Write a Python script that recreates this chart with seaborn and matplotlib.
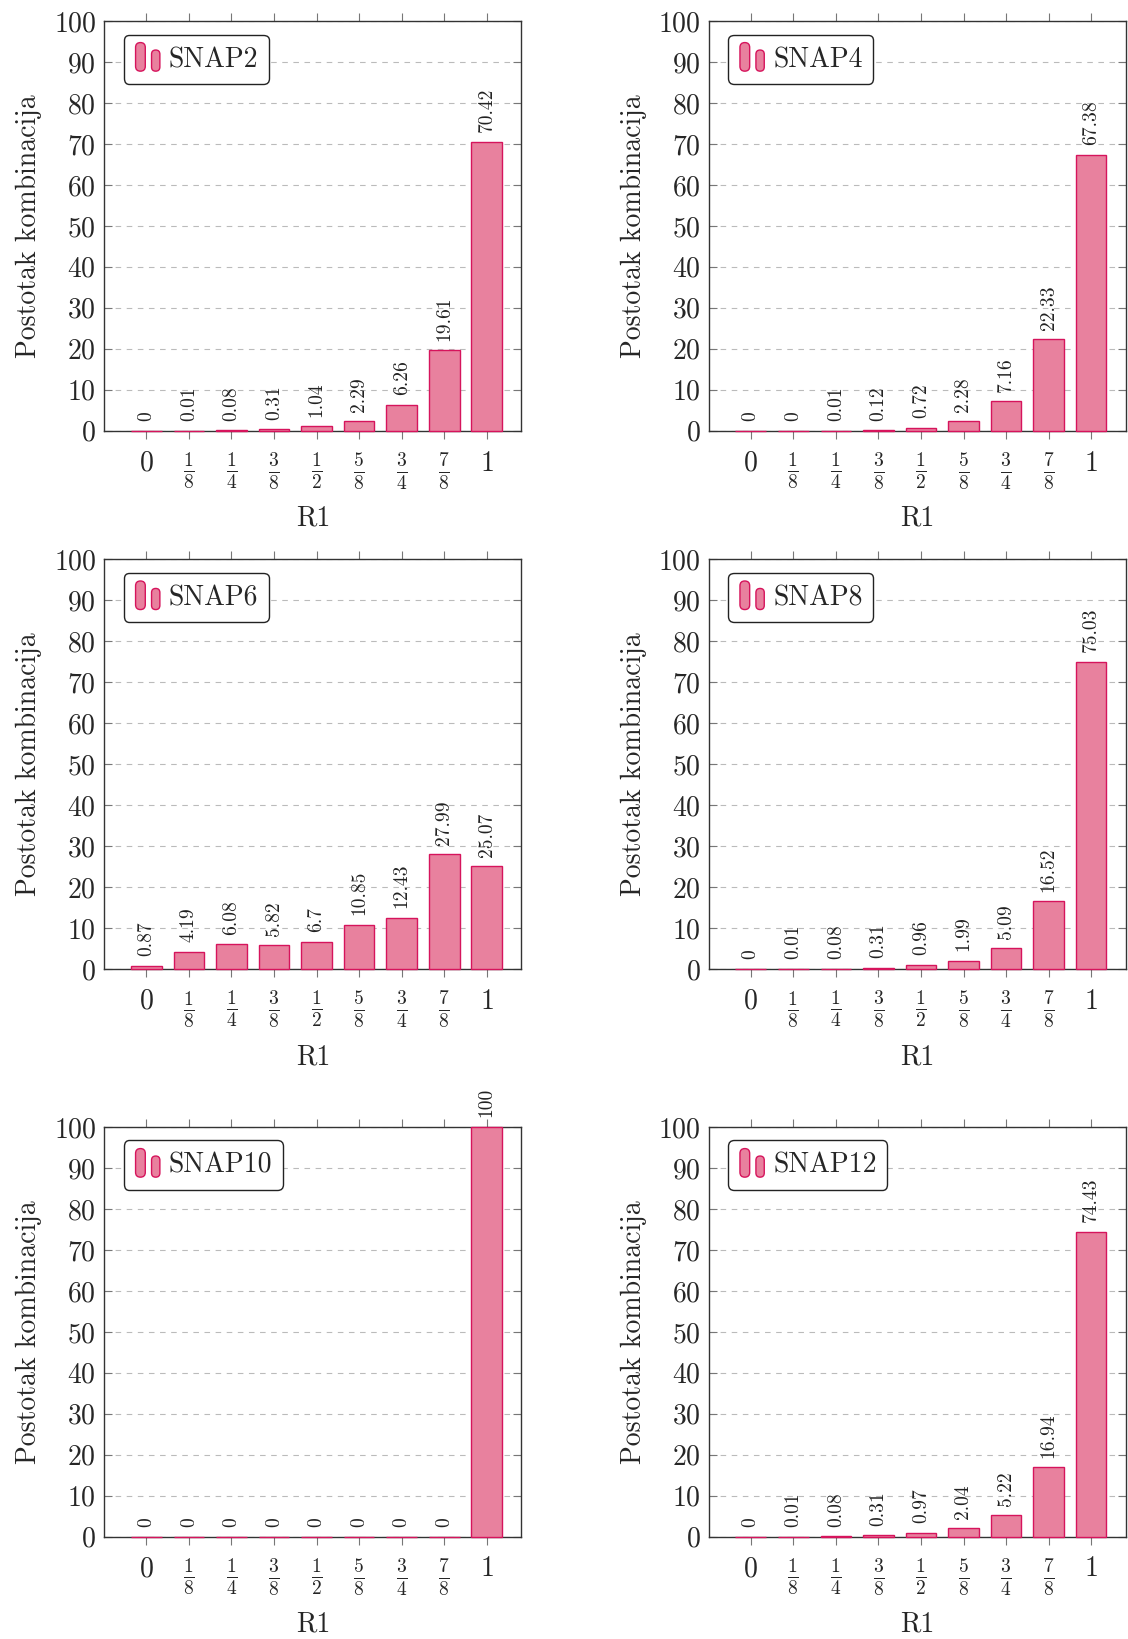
import numpy as np
import matplotlib
matplotlib.use('Agg')
import matplotlib.pyplot as plt
import seaborn as sns
from matplotlib.patches import Patch, FancyBboxPatch

sns.set_style('white')
plt.rcParams['font.family'] = 'serif'
plt.rcParams['font.serif'] = ['cmr10', 'DejaVu Serif']
plt.rcParams['mathtext.fontset'] = 'cm'
plt.rcParams['axes.unicode_minus'] = False
plt.rcParams['axes.formatter.use_mathtext'] = True

categories = ['$0$', r'$\frac{1}{8}$', r'$\frac{1}{4}$', r'$\frac{3}{8}$', r'$\frac{1}{2}$',
              r'$\frac{5}{8}$', r'$\frac{3}{4}$', r'$\frac{7}{8}$', '$1$']

snap2 = [0, 0.01, 0.08, 0.31, 1.04, 2.29, 6.26, 19.61, 70.42]
snap4 = [0, 0, 0.01, 0.12, 0.72, 2.28, 7.16, 22.33, 67.38]
snap6 = [0.87, 4.19, 6.08, 5.82, 6.7, 10.85, 12.43, 27.99, 25.07]
snap8 = [0, 0.01, 0.08, 0.31, 0.96, 1.99, 5.09, 16.52, 75.03]
snap10 = [0, 0, 0, 0, 0, 0, 0, 0, 100]
snap12 = [0, 0.01, 0.08, 0.31, 0.97, 2.04, 5.22, 16.94, 74.43]

names = ['SNAP2', 'SNAP4', 'SNAP6', 'SNAP8', 'SNAP10', 'SNAP12']
series = [snap2, snap4, snap6, snap8, snap10, snap12]

fill = '#e8819e'
edge = '#d6145c'


class BarsHandler:
    # two small rounded bars, like the pgfplots ybar legend icon
    def legend_artist(self, legend, orig_handle, fontsize, handlebox):
        x0, y0 = -handlebox.xdescent, -handlebox.ydescent
        h = handlebox.height
        b1 = FancyBboxPatch((x0 + 1, y0 - h * 0.05), 7, h * 1.15,
                            boxstyle='round,pad=0,rounding_size=3.5',
                            facecolor=fill, edgecolor=edge, lw=1.0,
                            transform=handlebox.get_transform())
        b2 = FancyBboxPatch((x0 + 12.5, y0 - h * 0.05), 6, h * 0.85,
                            boxstyle='round,pad=0,rounding_size=3',
                            facecolor=fill, edgecolor=edge, lw=1.0,
                            transform=handlebox.get_transform())
        handlebox.add_artist(b1)
        handlebox.add_artist(b2)
        return b1


fig = plt.figure(figsize=(11.28, 16.39), dpi=100)
lefts = [0.0926, 0.6284]
bottoms = [0.7372, 0.4087, 0.0624]

for i, (name, vals) in enumerate(zip(names, series)):
    ax = fig.add_axes([lefts[i % 2], bottoms[i // 2], 0.3695, 0.2500])
    sns.barplot(x=categories, y=vals, ax=ax, order=categories, color=fill,
                edgecolor=edge, linewidth=1.0, width=0.72, saturation=1)
    for p in ax.patches:
        p.set_zorder(3)
        p.set_clip_on(False)
    ax.bar_label(ax.containers[0], labels=[f'{v:g}' for v in vals],
                 rotation=90, padding=7, fontsize=14, color='#222222')
    ax.set_xlim(-0.985, 8.81)
    ax.set_ylim(0, 100)
    ax.set_yticks(np.arange(0, 101, 10))
    ax.yaxis.grid(True, linestyle=(0, (5, 5)), color='#bbbbbb', linewidth=0.8)
    ax.set_axisbelow(True)
    for s in ax.spines.values():
        s.set_color('#333333')
        s.set_linewidth(1.0)
    ax.tick_params(axis='y', direction='in', left=True, right=True, length=6,
                   color='#777777', labelsize=20, pad=6)
    ax.tick_params(axis='x', direction='out', bottom=True, top=True, length=6,
                   color='#777777', labelsize=20, pad=8)
    ax.set_xlabel('R1', fontsize=20, labelpad=10)
    ax.set_ylabel('Postotak kombinacija', fontsize=20, labelpad=8)
    ax.legend([Patch(facecolor=fill, edgecolor=edge)], [name],
              handler_map={Patch: BarsHandler()},
              loc='upper left', bbox_to_anchor=(0.046, 0.967), borderaxespad=0,
              fontsize=20, handlelength=1.0, handleheight=1.0, handletextpad=0.25,
              frameon=True, fancybox=True, edgecolor='#222222',
              borderpad=0.38, framealpha=1)

fig.savefig('out.png', dpi=100)
